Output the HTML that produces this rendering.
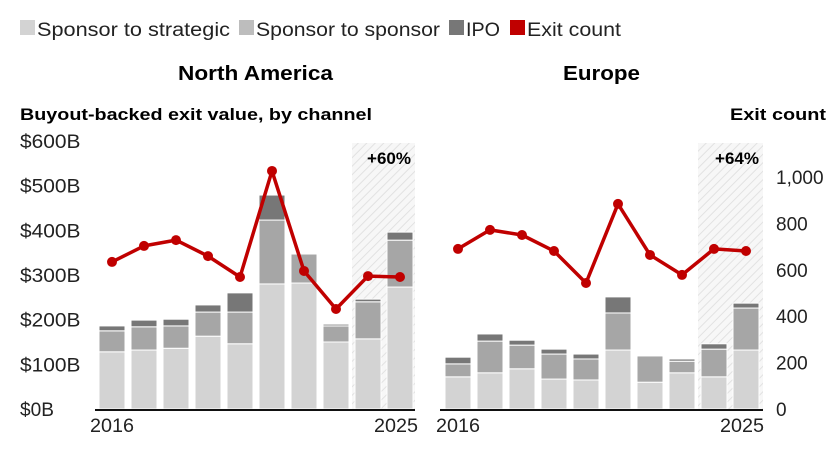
<!DOCTYPE html>
<html><head><meta charset="utf-8"><style>
body{margin:0;background:#fff;width:840px;height:453px;overflow:hidden;font-family:"Liberation Sans",sans-serif}
svg text{font-family:"Liberation Sans",sans-serif}
</style></head><body>
<svg id="c" width="840" height="453">
<defs><pattern id="hatch" width="6" height="6" patternUnits="userSpaceOnUse" patternTransform="rotate(45)"><rect width="6" height="6" fill="#f7f7f7"/><line x1="0" y1="0" x2="0" y2="6" stroke="#e2e2e2" stroke-width="2"/></pattern></defs>
<g>
<rect x="20" y="20" width="15" height="15" fill="#d3d3d3"/>
<text x="37" y="36" font-size="19" fill="#222" textLength="193" lengthAdjust="spacingAndGlyphs">Sponsor to strategic</text>
<rect x="239" y="20" width="15" height="15" fill="#bdbdbd"/>
<text x="256" y="36" font-size="19" fill="#222" textLength="184" lengthAdjust="spacingAndGlyphs">Sponsor to sponsor</text>
<rect x="449" y="20" width="15" height="15" fill="#777"/>
<text x="466" y="36" font-size="19" fill="#222" textLength="34" lengthAdjust="spacingAndGlyphs">IPO</text>
<rect x="510" y="20" width="15" height="15" fill="#c00000"/>
<text x="527" y="36" font-size="19" fill="#222" textLength="94" lengthAdjust="spacingAndGlyphs">Exit count</text>
</g>
<text x="178" y="80" font-size="20" font-weight="bold" textLength="155" lengthAdjust="spacingAndGlyphs">North America</text>
<text x="563" y="80" font-size="20" font-weight="bold" textLength="77" lengthAdjust="spacingAndGlyphs">Europe</text>
<text x="20" y="120" font-size="17" font-weight="bold" textLength="352" lengthAdjust="spacingAndGlyphs">Buyout-backed exit value, by channel</text>
<text x="730" y="120" font-size="17" font-weight="bold" textLength="96" lengthAdjust="spacingAndGlyphs">Exit count</text>
</svg>
<script>
const years=[2016,2017,2018,2019,2020,2021,2022,2023,2024,2025];
const naStrategic=[128,132,136,163,146,280,282,150,157,273];
const naS2S=[47,52,50,54,71,143,65,36,83,105];
const naIPO=[11,15,15,16,43,56,2,4,6,18];
const naCount=[634,703,728,659,569,1026,595,431,573,569];
const euStrategic=[72,81,90,67,65,132,60,81,72,132];
const euS2S=[29,71,53,56,47,83,59,26,62,94];
const euIPO=[15,16,11,11,11,36,1,5,12,11];
const euCount=[690,772,750,681,543,884,664,578,690,681];
const valueTicks=[0,100,200,300,400,500,600];
const valueTickLabels=["$0B","$100B","$200B","$300B","$400B","$500B","$600B"];
const countTicks=[0,200,400,600,800,1000];
const countTickLabels=["0","200","400","600","800","1,000"];
const badges=["+60%","+64%"];

const svg=document.getElementById('c');const NS='http://www.w3.org/2000/svg';
const base=409;
const yV=v=>base-v*(268/600);
const yC=v=>base-v*0.232;
function mk(tag,attrs,parent){const e=document.createElementNS(NS,tag);for(const k in attrs)e.setAttribute(k,attrs[k]);(parent||svg).appendChild(e);return e;}
const tl=s=>s.length*11.3;
valueTicks.forEach((t,i)=>{const e=mk('text',{x:20,y:yV(t)+7,'font-size':19,fill:'#222',textLength:tl(valueTickLabels[i])+(valueTickLabels[i].length>3?4:0),lengthAdjust:'spacingAndGlyphs'});e.textContent=valueTickLabels[i];

});
countTicks.forEach((t,i)=>{const e=mk('text',{x:776,y:yC(t)+7,'font-size':19,fill:'#222'});e.textContent=countTickLabels[i];

});
function panel(name,x0,axisL,axisR,strat,s2s,ipo,cnt,badge){
  const xb=i=>x0+i*32;
  const hx=xb(8)-3, hr=axisR;
  const h=mk('rect',{x:hx,y:143,width:hr-hx,height:base-143,fill:'url(#hatch)'});
  
  
  const b=mk('text',{x:hr-4,y:164,'font-size':17,'font-weight':'bold','text-anchor':'end'});b.textContent=badge;
  
  
  years.forEach((yr,i)=>{
    const segs=[[strat[i],'#d3d3d3','strategic'],[s2s[i],'#a6a6a6','s2s'],[ipo[i],'#777','ipo']];
    let acc=0;
    segs.forEach(([v,col,nm])=>{if(v<=0)return;const yt=yV(acc+v),yb=yV(acc);
      const r=mk('rect',{x:xb(i),y:yt,width:26,height:Math.max(0,yb-yt),fill:col,stroke:'#fff','stroke-width':1});
      
      
      acc+=v;});
  });
  const ax=mk('line',{x1:axisL,x2:axisR,y1:base+1,y2:base+1,stroke:'#111','stroke-width':2});
  
  
  const pts=cnt.map((c,i)=>(xb(i)+13)+','+yC(c)).join(' ');
  const pl=mk('polyline',{points:pts,fill:'none',stroke:'#c00000','stroke-width':3.5,'stroke-linejoin':'round'});
  
  
  cnt.forEach((c,i)=>{const p=mk('circle',{cx:xb(i)+13,cy:yC(c),r:5,fill:'#c00000'});
    
    });
  [[0,'start',xb(0)-9],[9,'end',xb(9)+31]].forEach(([i,a,x])=>{const t=mk('text',{x:x,y:432,'font-size':19,fill:'#222','text-anchor':a,textLength:44,lengthAdjust:'spacingAndGlyphs'});t.textContent=years[i];
    
    });
}
panel('north-america',99,95,415,naStrategic,naS2S,naIPO,naCount,badges[0]);
panel('europe',445,440,763,euStrategic,euS2S,euIPO,euCount,badges[1]);
</script>
</body></html>
